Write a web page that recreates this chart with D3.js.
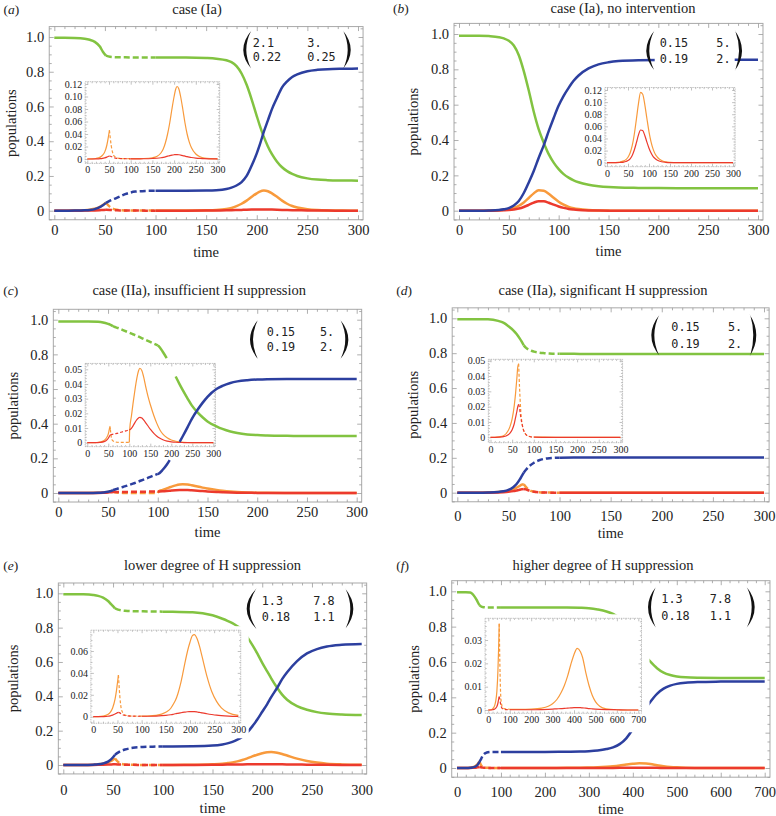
<!DOCTYPE html>
<html><head><meta charset="utf-8">
<script src="https://cdn.jsdelivr.net/npm/d3@7"></script>
<style>body{margin:0;background:#fff}svg{display:block}</style>
</head><body>
<svg id="c" width="776" height="816"></svg>
<script>
// ---------------- DATA ----------------
const titles = ["case (Ia)", "case (Ia), no intervention", "case (IIa), insufficient H suppression",
  "case (IIa), significant H suppression", "lower degree of H suppression", "higher degree of H suppression"];
const letters = ["a","b","c","d","e","f"];

const mainYTicks = [0,0.2,0.4,0.6,0.8,1.0];
const mainYLabels = ["0","0.2","0.4","0.6","0.8","1.0"];
const xTicks300 = [0,50,100,150,200,250,300];
const xLabels300 = ["0","50","100","150","200","250","300"];
const xTicks700 = [0,100,200,300,400,500,600,700];
const xLabels700 = ["0","100","200","300","400","500","600","700"];

const insetYA = [0,0.02,0.04,0.06,0.08,0.10,0.12];
const insetYLabA = ["0","0.02","0.04","0.06","0.08","0.10","0.12"];
const insetYC = [0,0.01,0.02,0.03,0.04,0.05];
const insetYLabC = ["0","0.01","0.02","0.03","0.04","0.05"];
const insetYE = [0,0.02,0.04,0.06];
const insetYLabE = ["0","0.02","0.04","0.06"];
const insetYF = [0,0.01,0.02,0.03];
const insetYLabF = ["0","0.01","0.02","0.03"];

const matA = [["2.1","3."],["0.22","0.25"]];
const matB = [["0.15","5."],["0.19","2."]];
const matE = [["1.3","7.8"],["0.18","1.1"]];

// (a)
const tA = [0,10,20,30,35,40,45,48,51,55,60,65,70,80,90,100,110,130,150,160,170,175,180,185,190,195,200,203,207,211,215,220,225,230,235,240,250,260,270,285,300];
const aS = [0.995,0.995,0.994,0.99,0.984,0.972,0.945,0.915,0.893,0.886,0.884,0.883,0.883,0.882,0.882,0.882,0.882,0.882,0.879,0.875,0.866,0.855,0.832,0.79,0.725,0.64,0.545,0.49,0.425,0.37,0.325,0.282,0.25,0.228,0.212,0.2,0.186,0.179,0.176,0.174,0.173];
const aR = [0,0,0.0005,0.002,0.004,0.009,0.02,0.031,0.045,0.058,0.07,0.082,0.095,0.11,0.114,0.115,0.115,0.115,0.116,0.118,0.125,0.133,0.145,0.165,0.2,0.26,0.33,0.38,0.455,0.52,0.585,0.65,0.71,0.745,0.77,0.785,0.803,0.811,0.815,0.817,0.818];
const aI = [0,0.0002,0.0008,0.003,0.006,0.011,0.022,0.033,0.046,0.022,0.007,0.003,0.0015,0.0007,0.0005,0.0005,0.0005,0.0008,0.002,0.004,0.01,0.016,0.026,0.04,0.058,0.08,0.1,0.11,0.116,0.112,0.1,0.08,0.058,0.04,0.027,0.018,0.008,0.0035,0.0015,0.0005,0.0002];
const aH = [0,0,0.0001,0.0005,0.001,0.0018,0.003,0.004,0.0048,0.004,0.0025,0.0015,0.001,0.0006,0.0004,0.0003,0.0003,0.0004,0.0008,0.0012,0.002,0.0027,0.0035,0.0045,0.0055,0.0063,0.0068,0.007,0.007,0.0068,0.0063,0.0055,0.0046,0.0037,0.003,0.0024,0.0015,0.0009,0.0005,0.0003,0.0001];

// (b)
const tB = [0,10,20,30,40,45,50,55,60,65,70,75,80,85,90,95,100,105,110,115,120,130,140,150,160,180,200,250,300];
const bS = [0.99,0.99,0.99,0.988,0.982,0.975,0.962,0.935,0.88,0.79,0.68,0.56,0.46,0.385,0.32,0.272,0.235,0.207,0.187,0.172,0.161,0.147,0.139,0.134,0.131,0.129,0.128,0.127,0.127];
const bR = [0,0,0,0.001,0.004,0.008,0.015,0.03,0.055,0.1,0.16,0.225,0.3,0.37,0.45,0.525,0.595,0.65,0.695,0.735,0.765,0.805,0.828,0.84,0.847,0.852,0.853,0.854,0.854];
const bI = [0,0,0.0002,0.001,0.003,0.005,0.009,0.016,0.028,0.047,0.072,0.098,0.116,0.113,0.096,0.073,0.051,0.034,0.022,0.014,0.009,0.0035,0.0013,0.0005,0.0002,0,0,0,0];
const bH = [0,0,0,0.0003,0.001,0.002,0.0035,0.0065,0.012,0.021,0.033,0.046,0.054,0.053,0.045,0.034,0.024,0.016,0.01,0.0065,0.004,0.0015,0.0006,0.0002,0.0001,0,0,0,0];

// (c)  (null = hidden stretch of the curve)
const tC = [0,10,20,30,40,45,50,52,54,55,57,60,65,70,75,80,85,90,95,100,101,105,109,112,114,118,122,125,130,134,140,145,150,159,165,173,180,190,200,210,230,250,300];
const cS = [0.99,0.99,0.99,0.99,0.988,0.984,0.976,0.972,0.966,0.962,0.958,0.952,0.94,0.928,0.916,0.904,0.891,0.878,0.865,0.852,0.847,0.815,0.778,null,null,0.672,0.627,0.595,0.545,0.507,0.465,0.437,0.413,0.385,0.37,0.355,0.346,0.338,0.334,0.332,0.33,0.329,0.329];
const cR = [0,0,0,0,0.001,0.003,0.007,0.01,0.014,0.017,0.02,0.026,0.035,0.044,0.054,0.065,0.076,0.087,0.099,0.11,0.112,0.134,0.163,0.19,null,null,0.295,0.326,0.38,0.425,0.48,0.52,0.555,0.6,0.618,0.635,0.644,0.651,0.655,0.657,0.658,0.658,0.658];
const cI = [0,0,0.0001,0.0004,0.0015,0.003,0.006,0.0085,0.0112,0.009,0.004,0.0015,0.0006,0.0003,0.0002,0.0002,0.0002,0.0002,0.0002,0.0002,0.009,0.018,0.027,0.033,0.037,0.044,0.049,0.0507,0.049,0.045,0.037,0.031,0.026,0.018,0.0135,0.0087,0.0058,0.0033,0.0018,0.001,0.0003,0.0001,0];
const cH = [0,0,0,0.0002,0.0007,0.0015,0.003,0.004,0.005,0.0053,0.0055,0.0057,0.006,0.0063,0.0067,0.0071,0.0075,0.0079,0.0083,0.0086,0.0088,0.0098,0.0115,0.013,0.014,0.0158,0.0169,0.0173,0.0168,0.0155,0.0132,0.0112,0.0092,0.0062,0.0046,0.003,0.002,0.0011,0.0006,0.0003,0.0001,0,0];

// (d)
const tD = [0,10,20,30,40,45,50,55,58,61,63,65,67,70,75,80,85,90,95,100,120,150,200,250,300];
const dS = [0.995,0.995,0.995,0.994,0.985,0.975,0.955,0.93,0.91,0.885,0.866,0.845,0.832,0.82,0.809,0.803,0.8,0.798,0.797,0.797,0.796,0.796,0.796,0.796,0.796];
const dR = [0,0,0,0.001,0.004,0.008,0.016,0.033,0.05,0.075,0.095,0.115,0.13,0.15,0.172,0.186,0.194,0.198,0.2,0.201,0.202,0.202,0.202,0.202,0.202];
const dI = [0,0,0.0003,0.001,0.004,0.007,0.012,0.021,0.029,0.039,0.046,0.048,0.033,0.017,0.006,0.0025,0.001,0.0005,0.0003,0.0002,0.0001,0,0,0,0];
const dH = [0,0,0.0001,0.0004,0.0015,0.0028,0.005,0.009,0.013,0.017,0.02,0.0215,0.019,0.013,0.006,0.0025,0.0011,0.0005,0.0002,0.0001,0,0,0,0,0];

// (e)
const tE = [0,10,20,30,35,40,45,48,50,52,55,58,62,66,70,80,90,100,110,130,150,160,165,170,175,180,185,190,195,200,205,209,215,220,225,235,245,255,265,280,300];
const eS = [0.995,0.995,0.994,0.99,0.985,0.975,0.955,0.937,0.925,0.912,0.905,0.901,0.898,0.897,0.896,0.895,0.894,0.893,0.892,0.89,0.872,0.852,0.84,0.826,0.808,0.787,0.745,0.7,0.65,0.595,0.545,0.505,0.45,0.41,0.38,0.343,0.322,0.308,0.3,0.294,0.291];
const eR = [0,0,0,0.002,0.004,0.009,0.02,0.033,0.045,0.06,0.072,0.082,0.09,0.096,0.1,0.105,0.107,0.108,0.108,0.109,0.113,0.12,0.126,0.135,0.148,0.165,0.19,0.225,0.265,0.31,0.355,0.395,0.45,0.5,0.54,0.605,0.65,0.675,0.69,0.7,0.705];
const eI = [0,0.0001,0.0005,0.002,0.004,0.008,0.016,0.024,0.031,0.038,0.018,0.007,0.003,0.0015,0.001,0.0006,0.0005,0.0005,0.0006,0.0012,0.004,0.0075,0.011,0.015,0.021,0.029,0.039,0.05,0.06,0.068,0.074,0.075,0.071,0.064,0.055,0.037,0.023,0.014,0.008,0.0035,0.0012];
const eH = [0,0,0.0001,0.0004,0.0008,0.0014,0.0024,0.0032,0.0037,0.004,0.0035,0.0025,0.0016,0.0011,0.0008,0.0005,0.0004,0.0004,0.0004,0.0006,0.0012,0.0018,0.0022,0.0027,0.0031,0.0035,0.0039,0.0042,0.0045,0.0046,0.0047,0.0046,0.0043,0.004,0.0035,0.0027,0.002,0.0014,0.001,0.0006,0.0003];

// (f)
const tF = [0,10,20,30,35,40,45,48,51,55,58,62,66,70,80,100,150,200,250,280,300,320,340,355,370,385,400,415,430,440,455,470,485,500,520,550,600,650,700];
const fS = [0.995,0.995,0.995,0.993,0.985,0.97,0.95,0.935,0.922,0.914,0.911,0.91,0.909,0.909,0.909,0.909,0.909,0.909,0.909,0.907,0.904,0.897,0.886,0.872,0.85,0.8,0.74,0.68,0.63,0.602,0.565,0.54,0.526,0.518,0.513,0.511,0.51,0.509,0.509];
const fR = [0,0,0,0.001,0.003,0.006,0.013,0.022,0.035,0.052,0.068,0.08,0.086,0.089,0.091,0.091,0.091,0.091,0.092,0.093,0.095,0.099,0.107,0.117,0.135,0.168,0.22,0.28,0.34,0.375,0.42,0.449,0.466,0.476,0.483,0.487,0.489,0.49,0.49];
const fI = [0,0.0001,0.0005,0.002,0.004,0.008,0.017,0.026,0.037,0.015,0.006,0.0025,0.0012,0.0008,0.0005,0.0003,0.0003,0.0004,0.0008,0.0016,0.0027,0.0045,0.0075,0.0105,0.0145,0.0195,0.0238,0.0264,0.025,0.0225,0.016,0.0105,0.0063,0.0036,0.0016,0.0005,0.0001,0,0];
const fH = [0,0,0.0001,0.0004,0.0008,0.0015,0.003,0.0045,0.0057,0.004,0.0022,0.0011,0.0006,0.0004,0.0002,0.0001,0.0001,0.0001,0.0002,0.0003,0.0004,0.0005,0.0006,0.0007,0.0008,0.0009,0.001,0.001,0.001,0.0009,0.0008,0.0006,0.0005,0.0004,0.0003,0.0002,0.0001,0,0];

// intervention (dashed) intervals
const intervals = [[51,100], null, [55,100], [65,100], [52,100], [51,100]];

// ---------------- LAYOUT ----------------
const SERIF = '"Liberation Serif","Times New Roman",serif';
const MONO = '"DejaVu Sans Mono","Liberation Mono",monospace';
const COL = {S:'#82c341', R:'#2c3f9f', I:'#f89a3c', H:'#ec3a2d'};
const Y_LO = -0.052, Y_HI = 1.06;
const FS_AX = 14.5, FS_TITLE = 14.5;

const PANELS = [
 {t:tA,S:aS,R:aR,I:aI,H:aH,xMax:300,mat:matA,iy:insetYA,iyl:insetYLabA,under:false,
  m:{x0:54.3,x1:358,y0:210.7,y1:37,pad:5,labBase:235,timeBase:257,popX:11,letX:3.5,letY:13.5,titX:197,titY:13.5},
  ins:{x0:87.3,x1:217.5,y0:159,yTopPx:84,yTopVal:0.12,lo:-0.007,hi:0.1237,pad:5,box:[24,8,4,13]},
  mx:{lb:[243.3,251.7],rb:[342.7,350.7],cols:[252.7,307.3],rows:[42.7,56.7]}},
 {t:tB,S:bS,R:bR,I:bI,H:bH,xMax:300,mat:matB,iy:insetYA,iyl:insetYLabA,under:false,
  m:{x0:459,x1:758,y0:210.7,y1:34,pad:5,labBase:235,timeBase:256,popX:413,letX:393,letY:12.5,titX:623,titY:12.5},
  ins:{x0:607,x1:733,y0:162.7,yTopPx:90,yTopVal:0.12,lo:-0.0066,hi:0.1241,pad:5,box:[24,8,4,12]},
  mx:{lb:[646.3,654.7],rb:[734.7,742],cols:[659.7,716.3],rows:[42.7,58.3]}},
 {t:tC,S:cS,R:cR,I:cI,H:cH,xMax:300,mat:matB,iy:insetYC,iyl:insetYLabC,under:true,
  m:{x0:58.3,x1:356.7,y0:493,y1:319.7,pad:5,labBase:517,timeBase:536.5,popX:13.3,letX:3.3,letY:294.5,titX:199.2,titY:294.5},
  ins:{x0:87.3,x1:213.3,y0:442.7,yTopPx:369.3,yTopVal:0.05,lo:-0.0027,hi:0.054,pad:5,box:[24,8,4,13]},
  mx:{lb:[250,258.3],rb:[340,348.3],cols:[266.7,320],rows:[332,347]}},
 {t:tD,S:dS,R:dR,I:dI,H:dH,xMax:300,mat:matB,iy:insetYC,iyl:insetYLabC,under:false,
  m:{x0:457.3,x1:764,y0:492.7,y1:318.3,pad:5,labBase:521,timeBase:538,popX:413,letX:396.3,letY:294.5,titX:603,titY:294.5},
  ins:{x0:490.5,x1:620.4,y0:437.3,yTopPx:360.7,yTopVal:0.05,lo:-0.0035,hi:0.0509,pad:5,box:[24,8,3,11]},
  mx:{lb:[651.3,659.7],rb:[749.7,756.3],cols:[671.3,728],rows:[327,343.7]}},
 {t:tE,S:eS,R:eR,I:eI,H:eH,xMax:300,mat:matE,iy:insetYE,iyl:insetYLabE,under:false,
  m:{x0:63.3,x1:361.7,y0:765,y1:593.3,pad:5,labBase:795,timeBase:813,popX:13.3,letX:3.3,letY:570,titX:212.5,titY:570},
  ins:{x0:93.3,x1:238.3,y0:716.7,yTopPx:651,yTopVal:0.06,lo:-0.006,hi:0.079,pad:5,box:[24,8,4,15]},
  mx:{lb:[246.7,256.7],rb:[345,353.3],cols:[261.7,313.3],rows:[600.7,616.7]}},
 {t:tF,S:fS,R:fR,I:fI,H:fH,xMax:700,mat:matE,iy:insetYF,iyl:insetYLabF,under:false,
  m:{x0:457,x1:764.7,y0:768,y1:591.3,pad:12,labBase:797,timeBase:813.5,popX:414,letX:396.3,letY:570,titX:603,titY:570},
  ins:{x0:488.3,x1:638.3,y0:710,yTopPx:640,yTopVal:0.03,lo:-0.0014,hi:0.0393,pad:15,box:[24,8,4,19]},
  mx:{lb:[648,656.3],rb:[746.3,754.7],cols:[661.3,709.7],rows:[599,615.7]}}
];

// ---------------- DRAW ----------------
const svg = d3.select('#c');

function styleAxis(sel, fs, tickCol, tw) {
  sel.select('.domain').remove();
  sel.attr('font-family', null).attr('font-size', null);
  sel.selectAll('line').attr('stroke', tickCol).attr('stroke-width', tw);
  sel.selectAll('text').attr('fill', '#222').attr('font-family', SERIF).attr('font-size', fs);
}

function frameAxes(g, x, y, L, R, T, B, o) {
  const add = (axis, tx, ty) => g.append('g').attr('transform', `translate(${tx},${ty})`).call(axis).call(styleAxis, o.fs, o.tickCol, o.tw);
  add(d3.axisBottom(x).tickValues(o.xT).tickFormat((d,i)=>o.xL[i]).tickSize(-o.maj).tickPadding(o.xPadTxt), 0, B);
  add(d3.axisBottom(x).tickValues(o.xMin).tickFormat('').tickSize(-o.min), 0, B);
  add(d3.axisTop(x).tickValues(o.xT).tickFormat('').tickSize(-o.maj), 0, T);
  add(d3.axisTop(x).tickValues(o.xMin).tickFormat('').tickSize(-o.min), 0, T);
  add(d3.axisLeft(y).tickValues(o.yT).tickFormat((d,i)=>o.yL[i]).tickSize(-o.maj).tickPadding(o.yPadTxt), L, 0);
  add(d3.axisLeft(y).tickValues(o.yMin).tickFormat('').tickSize(-o.min), L, 0);
  add(d3.axisRight(y).tickValues(o.yT).tickFormat('').tickSize(-o.maj), R, 0);
  add(d3.axisRight(y).tickValues(o.yMin).tickFormat('').tickSize(-o.min), R, 0);
}

function minors(lo, hi, step, majors) {
  const out = [];
  const k0 = Math.ceil(lo/step - 1e-9), k1 = Math.floor(hi/step + 1e-9);
  for (let k = k0; k <= k1; k++) {
    const v = +(k*step).toFixed(8);
    if (!majors.some(m => Math.abs(m - v) < step*1e-3)) out.push(v);
  }
  return out;
}

function drawSeries(g, x, y, t, vals, interval, color, width, dash) {
  const pts = t.map((tt,i) => ({t:tt, v:vals[i]}));
  const line = d3.line().defined(d => d.v != null).x(d => x(d.t)).y(d => y(d.v)).curve(d3.curveMonotoneX);
  const segs = interval ? [
    {p: pts.filter(d => d.t <= interval[0]), dash: null},
    {p: pts.filter(d => d.t >= interval[0] && d.t <= interval[1]), dash: dash},
    {p: pts.filter(d => d.t >= interval[1]), dash: null}] : [{p: pts, dash: null}];
  segs.forEach(s => {
    if (s.p.length < 2) return;
    g.append('path').attr('d', line(s.p)).attr('fill','none').attr('stroke', color)
      .attr('stroke-width', width).attr('stroke-dasharray', s.dash).attr('stroke-linejoin','round');
  });
}

function drawInset(g, p, interval) {
  const q = p.ins;
  const x = d3.scaleLinear().domain([0, p.xMax]).range([q.x0, q.x1]);
  const y = d3.scaleLinear().domain([0, q.yTopVal]).range([q.y0, q.yTopPx]);
  const L = x(-q.pad), R = x(p.xMax + q.pad), T = y(q.hi), B = y(q.lo);
  const gi = g.append('g');
  gi.append('rect').attr('x', L - q.box[0]).attr('y', T - q.box[2])
    .attr('width', R - L + q.box[0] + q.box[1]).attr('height', B - T + q.box[2] + q.box[3]).attr('fill', '#fff');
  gi.append('rect').attr('x', L).attr('y', T).attr('width', R - L).attr('height', B - T)
    .attr('fill', 'none').attr('stroke', '#b4b4b4').attr('stroke-width', 0.8).attr('stroke-dasharray', '1.5,0.8');
  const xT = p.xMax === 700 ? xTicks700 : xTicks300;
  const xL = p.xMax === 700 ? xLabels700 : xLabels300;
  const xs = p.xMax === 700 ? 20 : 10;
  const ys = (p.iy[1] - p.iy[0]) / (p.iy[1] - p.iy[0] > 0.015 ? 4 : 5);
  frameAxes(gi, x, y, L, R, T, B, {
    xT, xL, xMin: minors(-q.pad, p.xMax + q.pad, xs, xT),
    yT: p.iy, yL: p.iyl, yMin: minors(q.lo, q.hi, ys, p.iy),
    maj: 3, min: 1.6, fs: 10, tickCol: '#a8a8a8', tw: 0.7, xPadTxt: 3, yPadTxt: 3
  });
  drawSeries(gi, x, y, p.t, p.I, interval, COL.I, 1.2, '3,2');
  drawSeries(gi, x, y, p.t, p.H, interval, COL.H, 1.2, '3,2');
}

function bracket(xl, xr, top, bot, th, left) {
  const mid = (top + bot) / 2;
  if (left) {
    const co = 2*xl - xr, ci = 2*(xl + th) - xr;
    return `M${xr},${top} Q${co},${mid} ${xr},${bot} L${xr-0.6},${bot-0.8} Q${ci},${mid} ${xr-0.6},${top+0.8} Z`;
  }
  const co = 2*xr - xl, ci = 2*(xr - th) - xl;
  return `M${xl},${top} Q${co},${mid} ${xl},${bot} L${xl+0.6},${bot-0.8} Q${ci},${mid} ${xl+0.6},${top+0.8} Z`;
}

function drawMatrix(g, mat, L) {
  const gm = g.append('g');
  gm.append('rect').attr('x', L.lb[1]).attr('y', L.rows[0] - 8).attr('width', L.rb[0] - L.lb[1])
    .attr('height', L.rows[1] - L.rows[0] + 16).attr('fill', '#fff');
  mat.forEach((row, ri) => row.forEach((txt, ci) => {
    gm.append('text').attr('x', L.cols[ci]).attr('y', L.rows[ri]).attr('dy', '0.36em')
      .attr('font-family', MONO).attr('font-size', 11.8).attr('fill', '#222').text(txt);
  }));
  const top = L.rows[0] - 12.5, bot = L.rows[1] + 12.5;
  gm.append('path').attr('d', bracket(L.lb[0], L.lb[1], top, bot, 3.3, true)).attr('fill', '#111');
  gm.append('path').attr('d', bracket(L.rb[0], L.rb[1], top, bot, 3.3, false)).attr('fill', '#111');
}

PANELS.forEach((p, idx) => {
  const m = p.m, interval = intervals[idx];
  const g = svg.append('g');
  const x = d3.scaleLinear().domain([0, p.xMax]).range([m.x0, m.x1]);
  const y = d3.scaleLinear().domain([0, 1]).range([m.y0, m.y1]);
  const L = x(-m.pad), R = x(p.xMax + m.pad), T = y(Y_HI), B = y(Y_LO);

  g.append('rect').attr('x', L).attr('y', T).attr('width', R - L).attr('height', B - T)
    .attr('fill', 'none').attr('stroke', '#a8a8a8').attr('stroke-width', 1);
  const xT = p.xMax === 700 ? xTicks700 : xTicks300;
  const xL = p.xMax === 700 ? xLabels700 : xLabels300;
  frameAxes(g, x, y, L, R, T, B, {
    xT, xL, xMin: minors(-m.pad, p.xMax + m.pad, p.xMax === 700 ? 20 : 10, xT),
    yT: mainYTicks, yL: mainYLabels, yMin: minors(Y_LO, Y_HI, 0.05, mainYTicks),
    maj: 4.5, min: 2.5, fs: FS_AX, tickCol: '#9a9a9a', tw: 0.8,
    xPadTxt: m.labBase - B - 0.71*FS_AX, yPadTxt: 5
  });

  if (p.under) drawInset(g, p, interval);
  drawSeries(g, x, y, p.t, p.I, interval, COL.I, 2.5, '6,3');
  drawSeries(g, x, y, p.t, p.H, interval, COL.H, 2.5, '6,3');
  drawSeries(g, x, y, p.t, p.S, interval, COL.S, 2.5, '6,3');
  drawSeries(g, x, y, p.t, p.R, interval, COL.R, 2.5, '6,3');
  if (!p.under) drawInset(g, p, interval);
  drawMatrix(g, p.mat, p.mx);

  g.append('text').attr('x', (m.x0 + m.x1)/2).attr('y', m.timeBase).attr('text-anchor', 'middle')
    .attr('font-family', SERIF).attr('font-size', FS_AX).attr('fill', '#222').text('time');
  g.append('text').attr('transform', `translate(${m.popX},${(T + B)/2}) rotate(-90)`).attr('text-anchor', 'middle')
    .attr('dy', '0.35em').attr('font-family', SERIF).attr('font-size', FS_AX).attr('fill', '#222').text('populations');
  g.append('text').attr('x', m.titX).attr('y', m.titY).attr('text-anchor', 'middle')
    .attr('font-family', SERIF).attr('font-size', FS_TITLE).attr('fill', '#222').text(titles[idx]);
  const lt = g.append('text').attr('x', m.letX).attr('y', m.letY).attr('font-family', SERIF)
    .attr('font-size', 13.5).attr('fill', '#222');
  lt.append('tspan').text('(');
  lt.append('tspan').attr('font-style', 'italic').text(letters[idx]);
  lt.append('tspan').text(')');
});
</script>
</body></html>
